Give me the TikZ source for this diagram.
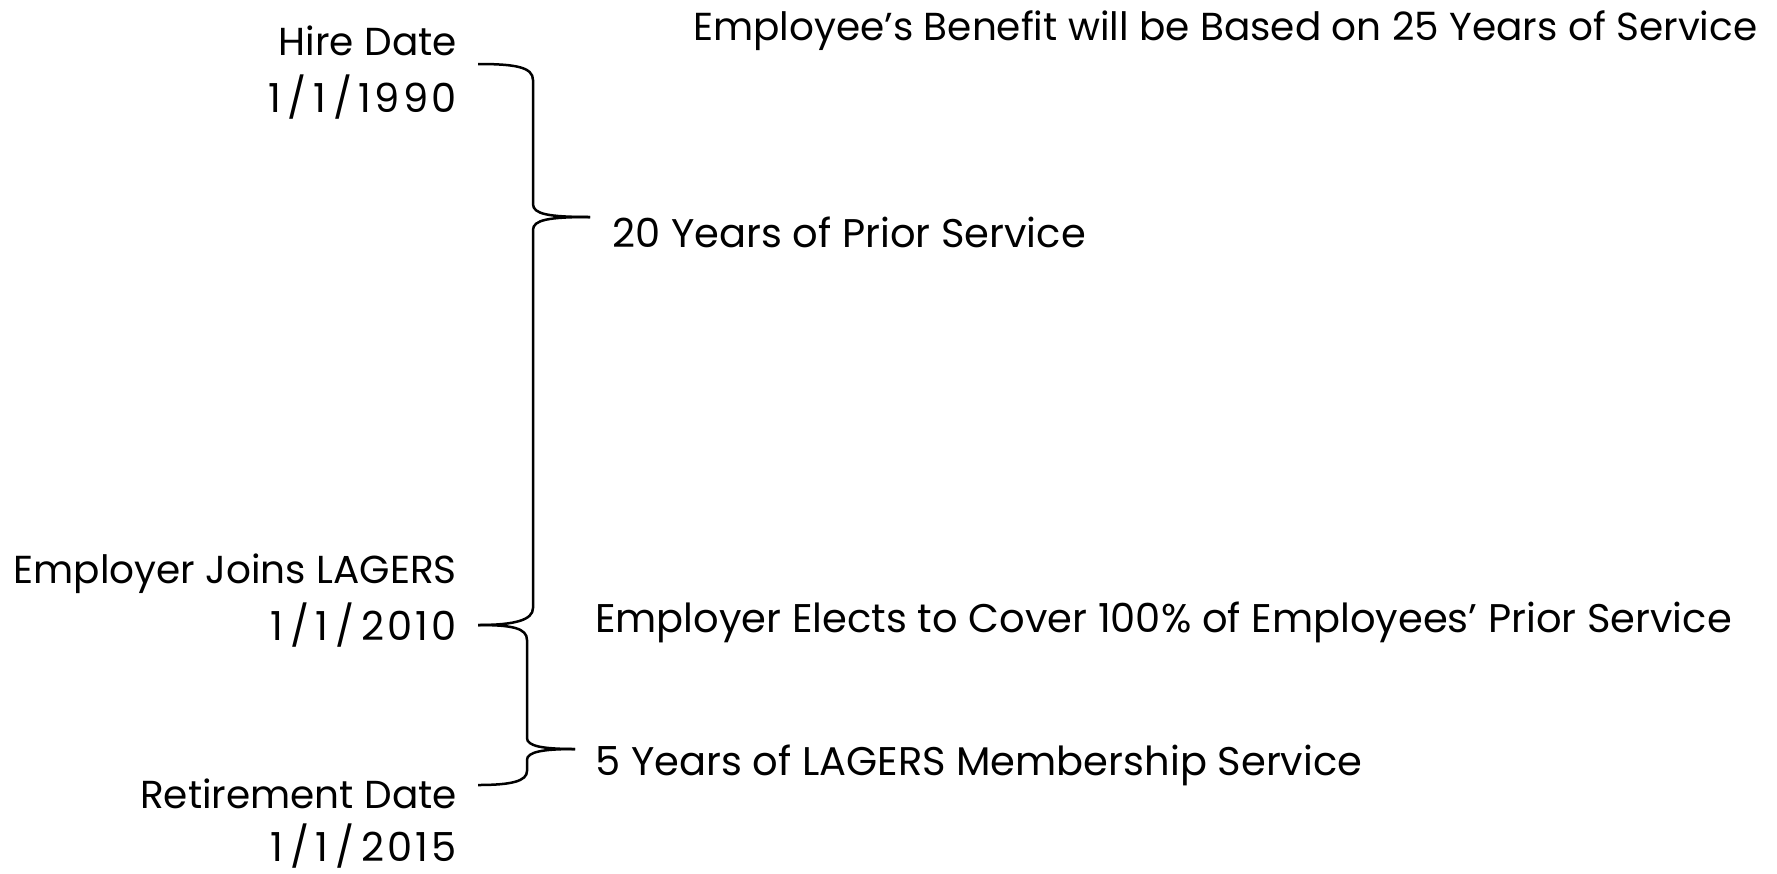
\documentclass[tikz,border=0pt]{standalone}
\usepackage{fontspec}
\setmainfont{Poppins}
\newfontfamily\datefont[LetterSpace=8]{Poppins}
\begin{document}
\begin{tikzpicture}[x=1pt,y=-1pt,
  every node/.style={inner sep=0pt},
  lbl/.style={font=\fontsize{39}{42}\selectfont, anchor=base east},
  day/.style={font=\datefont\fontsize{40}{44}\selectfont, anchor=base east},
  txt/.style={font=\fontsize{40}{44}\selectfont, anchor=base west},
  brace/.style={line width=2.5pt, line cap=butt}]
\useasboundingbox (0,0) rectangle (1777,873);
% dates on the left
\node[lbl] (hire) at (457,55) {Hire Date};
\node[day] (hireday) at (457,112) {1\,/\,1\,/\,1990};
\node[lbl] (join) at (457,583) {Employer Joins LAGERS};
\node[day] (joinday) at (457,640) {1\,/\,1\,/\,2010};
\node[lbl] (retire) at (457,808) {Retirement Date};
\node[day] (retireday) at (457,861) {1\,/\,1\,/\,2015};
% notes on the right
\node[txt, font=\fontsize{39}{42}\selectfont] (benefit) at (693,40) {Employee’s Benefit will be Based on 25 Years of Service};
\node[txt] (prior) at (612,247) {20 Years of Prior Service};
\node[txt] (elects) at (595,632) {Employer Elects to Cover 100\% of Employees’ Prior Service};
\node[txt] (member) at (595,775) {5 Years of LAGERS Membership Service};
% brace ends
\coordinate (b1top) at (478,64);
\coordinate (b1tip) at (590,217);
\coordinate (b1bot) at (478,625);
\coordinate (b2tip) at (575,749);
\coordinate (b2bot) at (478,785);
% prior service brace
\draw[brace] (b1top) .. controls (515,64) and (533,67) .. (533,80)
  -- (533,204) .. controls (533,214) and (548,217) .. (b1tip);
\draw[brace] (b1tip) .. controls (548,217) and (533,220) .. (533,230)
  -- (533,608) .. controls (533,620) and (515,625) .. (b1bot);
% membership brace
\draw[brace] (b1bot) .. controls (512,625) and (527,628) .. (527,640)
  -- (527,738) .. controls (527,746) and (542,749) .. (b2tip);
\draw[brace] (b2tip) .. controls (542,749) and (527,752) .. (527,760)
  -- (527,771) .. controls (527,781) and (512,785) .. (b2bot);
\end{tikzpicture}
\end{document}
